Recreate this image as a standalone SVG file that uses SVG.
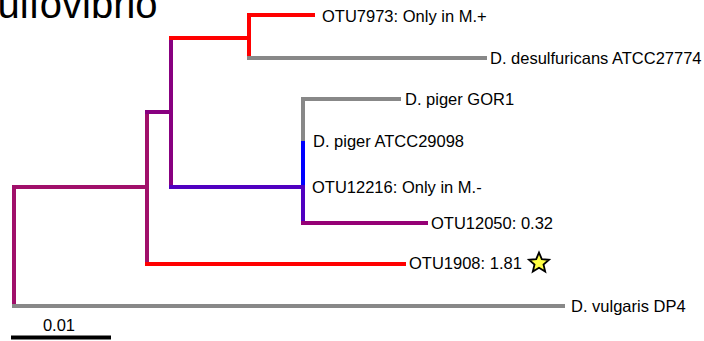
<svg xmlns="http://www.w3.org/2000/svg" width="704" height="341" viewBox="0 0 704 341">
<style>
  .lbl { font-family: "Liberation Sans", Arial, sans-serif; font-size: 16.5px; fill: #000; }
  .title { font-family: "Liberation Sans", Arial, sans-serif; font-size: 40px; fill: #000; }
  .br { fill: none; stroke-width: 4; stroke-linecap: square; }
  .gray { stroke: #888888; }
  .red { stroke: #ff0000; }
  .blue { stroke: #0000ff; }
  .mag { stroke: #a0106a; }
  .pur { stroke: #880080; }
  .vio { stroke: #5000c0; }
  .mag2 { stroke: #950075; }
</style>
<rect width="704" height="341" fill="#ffffff"/>
<text class="title" x="-2.5" y="17.5">ulfovibrio</text>
<g id="connectors">
  <path class="br mag" d="M14,187 V306"/>
  <path class="br mag" d="M14,187 H147"/>
  <path class="br mag" d="M147,112 V264"/>
  <path class="br pur" d="M147,112 H171"/>
  <path class="br pur" d="M171,38 V187"/>
  <path class="br red" d="M171,38 H249"/>
  <path class="br red" d="M249,15 V58"/>
  <path class="br red" d="M249,15 H313"/>
  <path class="br gray" d="M249,58 H485"/>
  <path class="br vio" d="M171,187 H303"/>
  <path class="br gray" d="M303,99 V143"/>
  <path class="br blue" d="M303,143 V187"/>
  <path class="br vio" d="M303,187 V223"/>
  <path class="br gray" d="M303,99 H399"/>
  <path class="br mag2" d="M303,223 H426"/>
  <path class="br red" d="M147,264 H404"/>
  <path class="br gray" d="M14,306 H563"/>
</g>
<g id="otu7973"><text class="lbl" x="322" y="21.8">OTU7973: Only in M.+</text></g>
<g id="d-desulfuricans"><text class="lbl" x="490" y="63.8">D. desulfuricans ATCC27774</text></g>
<g id="d-piger-gor1"><text class="lbl" x="405" y="104.8">D. piger GOR1</text></g>
<g id="d-piger-atcc"><text class="lbl" x="313" y="146.8">D. piger ATCC29098</text></g>
<g id="otu12216"><text class="lbl" x="312" y="192.8">OTU12216: Only in M.-</text></g>
<g id="otu12050"><text class="lbl" x="431" y="228.8">OTU12050: 0.32</text></g>
<g id="otu1908">
  <text class="lbl" x="409" y="268.8">OTU1908: 1.81</text>
  <polygon points="539,252.5 541.8,259.2 549,259.8 543.5,264.5 545.2,271.5 539,267.7 532.8,271.5 534.5,264.5 529,259.8 536.2,259.2" fill="#ffff44" stroke="#000" stroke-width="1.8" stroke-linejoin="miter"/>
</g>
<g id="d-vulgaris"><text class="lbl" x="571" y="311.8">D. vulgaris DP4</text></g>
<g id="scale">
  <text class="lbl" x="59" y="331" text-anchor="middle">0.01</text>
  <path d="M11,337.5 H111" stroke="#000" stroke-width="4"/>
</g>
</svg>
